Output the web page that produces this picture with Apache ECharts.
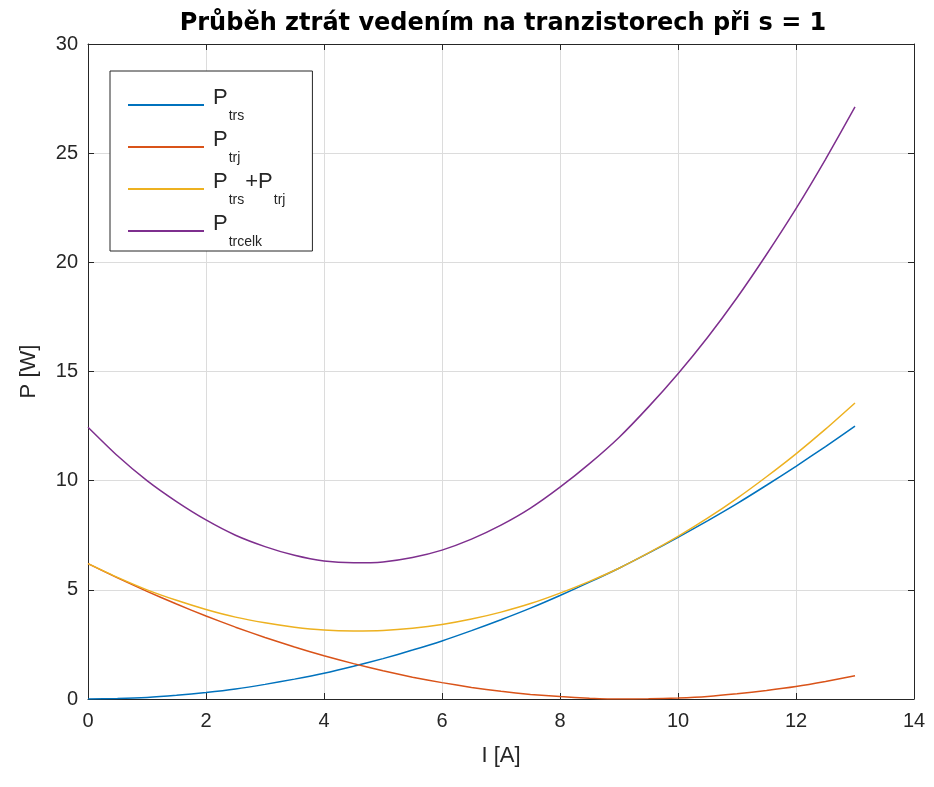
<!DOCTYPE html>
<html>
<head>
<meta charset="utf-8">
<title>Průběh ztrát vedením</title>
<script src="https://cdn.jsdelivr.net/npm/echarts@6/dist/echarts.min.js"></script>
<style>
  html, body { margin: 0; padding: 0; background: #fff; }
  #chart { width: 934px; height: 787px; }
</style>
</head>
<body>
<div id="chart"></div>
<script>
// proud I [A]
const current = [0, 0.5, 1, 1.5, 2, 2.5, 3, 3.5, 4, 4.5, 5, 5.5, 6, 6.5, 7, 7.5, 8, 8.5, 9, 9.5, 10, 10.5, 11, 11.5, 12, 12.5, 13];
// ztráty [W]
const pTrs = [0, 0.02, 0.07, 0.17, 0.30, 0.46, 0.67, 0.91, 1.18, 1.50, 1.85, 2.24, 2.66, 3.13, 3.63, 4.16, 4.74, 5.35, 5.99, 6.68, 7.40, 8.16, 8.95, 9.79, 10.66, 11.56, 12.50];
const pTrj = [6.20, 5.55, 4.93, 4.35, 3.80, 3.29, 2.82, 2.38, 1.98, 1.62, 1.29, 1.00, 0.75, 0.53, 0.35, 0.21, 0.11, 0.04, 0.00, 0.01, 0.05, 0.12, 0.24, 0.39, 0.57, 0.80, 1.06];
const pSum = [6.20, 5.57, 5.00, 4.52, 4.10, 3.75, 3.49, 3.29, 3.16, 3.12, 3.14, 3.24, 3.41, 3.66, 3.98, 4.37, 4.85, 5.39, 5.99, 6.69, 7.45, 8.28, 9.19, 10.18, 11.23, 12.36, 13.56];
const pCelk = [12.45, 11.14, 10.00, 9.04, 8.20, 7.50, 6.98, 6.58, 6.32, 6.24, 6.28, 6.48, 6.82, 7.32, 7.96, 8.74, 9.70, 10.78, 11.98, 13.38, 14.90, 16.56, 18.38, 20.36, 22.46, 24.72, 27.12];
const seriesNames = ['P_trs', 'P_trj', 'P_trs+P_trj', 'P_trcelk'];
const xTicks = [0, 2, 4, 6, 8, 10, 12, 14];
const yTicks = [0, 5, 10, 15, 20, 25, 30];

const colors = ['#0072BD', '#D95319', '#EDB120', '#7E2F8E'];
const FONT = '"Liberation Sans", Arial, Helvetica, sans-serif';
const AX = '#262626';

const chart = echarts.init(document.getElementById('chart'), null, { renderer: 'canvas' });

const zip = (ys) => current.map((x, i) => [x, ys[i]]);
const allValues = [pTrs, pTrj, pSum, pCelk];

// legenda: P s dolním indexem
const legendText = (name) => {
  const parts = name.split('+').map(p => {
    const [base, sub] = p.split('_');
    return '{n|' + base + '}{s|' + sub + '}';
  });
  return parts.join('{n|+}');
};

const axisCommon = {
  type: 'value',
  axisLine: { show: true, onZero: false, lineStyle: { color: AX, width: 1 } },
  axisTick: { show: true, inside: true, length: 6, lineStyle: { color: AX } },
  axisLabel: { color: AX, fontFamily: FONT, fontSize: 20 }
};

const option = {
  animation: false,
  backgroundColor: '#fff',
  color: colors,
  title: {
    text: 'Průběh ztrát vedením na tranzistorech při s = 1',
    left: 498,
    textAlign: 'center',
    top: 7,
    textStyle: { fontFamily: '"DejaVu Sans", sans-serif', fontSize: 24, fontWeight: 'bold', color: '#000' }
  },
  grid: { left: 88, right: 20, top: 44, bottom: 88, containLabel: false },
  legend: {
    orient: 'vertical',
    left: 110,
    top: 71,
    padding: [16, 26, 2, 18],
    itemGap: 6,
    itemWidth: 76,
    itemHeight: 2,
    icon: 'rect',
    borderColor: AX,
    borderWidth: 1,
    backgroundColor: '#fff',
    data: seriesNames,
    formatter: legendText,
    textStyle: {
      padding: [0, 0, 0, 4],
      rich: {
        n: { fontFamily: FONT, fontSize: 22, color: AX, lineHeight: 36, verticalAlign: 'top' },
        s: { fontFamily: FONT, fontSize: 14, color: AX, lineHeight: 36, verticalAlign: 'bottom', padding: [0, 1, 0, 1] }
      }
    }
  },
  xAxis: [
    Object.assign({}, axisCommon, {
      min: xTicks[0], max: xTicks[xTicks.length - 1], interval: 2,
      position: 'bottom',
      name: 'I [A]', nameLocation: 'middle', nameGap: 46,
      nameTextStyle: { color: AX, fontFamily: FONT, fontSize: 22 },
      axisLabel: Object.assign({}, axisCommon.axisLabel, { margin: 12 }),
      splitLine: { show: true, lineStyle: { color: '#dcdcdc', width: 1 } }
    }),
    Object.assign({}, axisCommon, {
      min: xTicks[0], max: xTicks[xTicks.length - 1], interval: 2,
      position: 'top',
      axisLabel: { show: false },
      splitLine: { show: false }
    })
  ],
  yAxis: [
    Object.assign({}, axisCommon, {
      min: yTicks[0], max: yTicks[yTicks.length - 1], interval: 5,
      position: 'left',
      name: 'P [W]', nameLocation: 'middle', nameGap: 48, nameRotate: 90,
      nameTextStyle: { color: AX, fontFamily: FONT, fontSize: 22 },
      axisLabel: Object.assign({}, axisCommon.axisLabel, { margin: 10 }),
      splitLine: { show: true, lineStyle: { color: '#dcdcdc', width: 1 } }
    }),
    Object.assign({}, axisCommon, {
      min: yTicks[0], max: yTicks[yTicks.length - 1], interval: 5,
      position: 'right',
      axisLabel: { show: false },
      splitLine: { show: false }
    })
  ],
  series: seriesNames.map((name, i) => ({
    name: name,
    type: 'line',
    xAxisIndex: 0,
    yAxisIndex: 0,
    data: zip(allValues[i]),
    showSymbol: false,
    symbol: 'none',
    smooth: 0.2,
    lineStyle: { width: 1.5, color: colors[i] },
    itemStyle: { color: colors[i] }
  }))
};

chart.setOption(option);
</script>
</body>
</html>
